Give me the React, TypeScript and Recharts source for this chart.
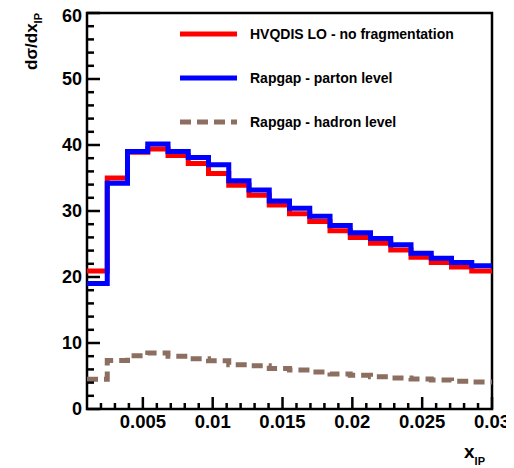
import { LineChart, Line, XAxis, YAxis, ReferenceArea } from 'recharts'

// bin edges in x_IP (20 bins from 0.001 to 0.03)
const edges = [
  0.001, 0.00245, 0.0039, 0.00535, 0.0068, 0.00825, 0.0097, 0.01115, 0.0126, 0.01405, 0.0155,
  0.01695, 0.0184, 0.01985, 0.0213, 0.02275, 0.0242, 0.02565, 0.0271, 0.02855, 0.03,
]
const hvqdis = [20.9, 35.0, 38.9, 39.4, 38.4, 37.2, 35.7, 33.9, 32.4, 30.9, 29.6, 28.4, 27.0, 26.0, 25.1, 24.1, 23.0, 22.2, 21.5, 20.9]
const parton = [19.0, 34.2, 39.0, 40.15, 39.0, 38.1, 37.0, 34.6, 33.2, 31.5, 30.4, 29.2, 27.8, 26.7, 25.85, 24.9, 23.6, 22.85, 22.2, 21.7]
const hadron = [4.5, 7.35, 8.05, 8.5, 8.0, 7.6, 7.3, 6.7, 6.55, 6.15, 5.9, 5.6, 5.3, 5.1, 4.9, 4.7, 4.55, 4.4, 4.2, 4.1]

const xTicks = [
  0.002, 0.003, 0.004, 0.005, 0.006, 0.007, 0.008, 0.009, 0.01, 0.011, 0.012, 0.013, 0.014, 0.015,
  0.016, 0.017, 0.018, 0.019, 0.02, 0.021, 0.022, 0.023, 0.024, 0.025, 0.026, 0.027, 0.028, 0.029, 0.03,
]
const yTicks = [0, 2, 4, 6, 8, 10, 12, 14, 16, 18, 20, 22, 24, 26, 28, 30, 32, 34, 36, 38, 40, 42, 44, 46, 48, 50, 52, 54, 56, 58, 60]

const legendItems = [
  { label: 'HVQDIS LO - no fragmentation', color: '#ff0000', dash: undefined },
  { label: 'Rapgap - parton level', color: '#0000ff', dash: undefined },
  { label: 'Rapgap - hadron level', color: '#8c6f60', dash: '11 6' },
]

// histogram rows: one per bin low edge, last edge repeats the last bin so the step closes
const rows = edges.map((x, i) => {
  const k = Math.min(i, hvqdis.length - 1)
  return { x, hvqdis: hvqdis[k], parton: parton[k], hadron: hadron[k] }
})

const FONT = '"Liberation Sans", Arial, sans-serif'

function YTick(props: any) {
  const { x, y, payload } = props
  const v = payload?.value ?? 0
  const major = v % 10 === 0
  const ax = x + 5
  // top label sits a little lower, like ROOT keeps it inside the pad
  const ly = v === 60 ? y + 3 : y
  return (
    <g>
      <line x1={ax} x2={ax + (major ? 13 : 7)} y1={y} y2={y} stroke="#000" strokeWidth={2.5} />
      {major && (
        <text x={x} y={ly} textAnchor="end" dominantBaseline="central" fontFamily={FONT} fontWeight="bold" fontSize={18} fill="#000">
          {v}
        </text>
      )}
    </g>
  )
}

function XTick(props: any) {
  const { x, y, payload } = props
  const v = payload?.value ?? 0
  const major = Math.round(v * 1000) % 5 === 0
  return (
    <g>
      <line x1={x} x2={x} y1={y} y2={y - (major ? 12 : 6)} stroke="#000" strokeWidth={2.5} />
      {major && (
        <text x={x} y={y + 6} dy="0.71em" textAnchor="middle" fontFamily={FONT} fontWeight="bold" fontSize={18.5} fill="#000">
          {String(v)}
        </text>
      )}
    </g>
  )
}

export default function App() {
  // pull the chart over the body margin so it covers the whole 514x468 window
  return (
    <div style={{ position: 'relative', width: 514, height: 468, margin: '-8px 0 0 -8px' }}>
      <LineChart width={514} height={468} data={rows} margin={{ top: 13, right: 22, bottom: 29, left: 0 }}>
        <XAxis
          dataKey="x"
          type="number"
          domain={[0.001, 0.03]}
          ticks={xTicks}
          interval={0}
          allowDataOverflow
          axisLine={false}
          tickLine={false}
          tickSize={0}
          tickMargin={0}
          height={30}
          tick={<XTick />}
        />
        <YAxis
          type="number"
          domain={[0, 60]}
          ticks={yTicks}
          interval={0}
          allowDataOverflow
          axisLine={false}
          tickLine={false}
          tickSize={0}
          tickMargin={5}
          width={87}
          tick={<YTick />}
        />
        <Line type="stepAfter" dataKey="hvqdis" stroke="#ff0000" strokeWidth={5} dot={false} isAnimationActive={false} />
        <Line type="stepAfter" dataKey="parton" stroke="#0000ff" strokeWidth={5} dot={false} isAnimationActive={false} />
        <Line type="stepAfter" dataKey="hadron" stroke="#8c6f60" strokeWidth={5} strokeDasharray="11 6" dot={false} isAnimationActive={false} />
        <ReferenceArea x1={0.001} x2={0.03} y1={0} y2={60} fill="none" stroke="#000" strokeWidth={2.5} ifOverflow="visible" />
      </LineChart>
      <svg width={514} height={468} style={{ position: 'absolute', left: 0, top: 0, pointerEvents: 'none' }}>
        {legendItems.map((it, i) => {
          const cy = 34 + i * 44
          return (
            <g key={it.label}>
              <line x1={180} x2={237} y1={cy} y2={cy} stroke={it.color} strokeWidth={5} strokeDasharray={it.dash} />
              <text x={250} y={cy} dominantBaseline="central" fontFamily={FONT} fontWeight="bold" fontSize={14} fill="#000">
                {it.label}
              </text>
            </g>
          )
        })}
        <text transform="translate(37,13) rotate(-90)" textAnchor="end" fontFamily={FONT} fontWeight="bold" fontSize={17} fill="#000">
          dσ/dx<tspan fontSize={11} dy={5}>IP</tspan>
        </text>
        <text x={485} y={458} textAnchor="end" fontFamily={FONT} fontWeight="bold" fontSize={19} fill="#000">
          x<tspan fontSize={11} dy={7}>IP</tspan>
        </text>
      </svg>
    </div>
  )
}
